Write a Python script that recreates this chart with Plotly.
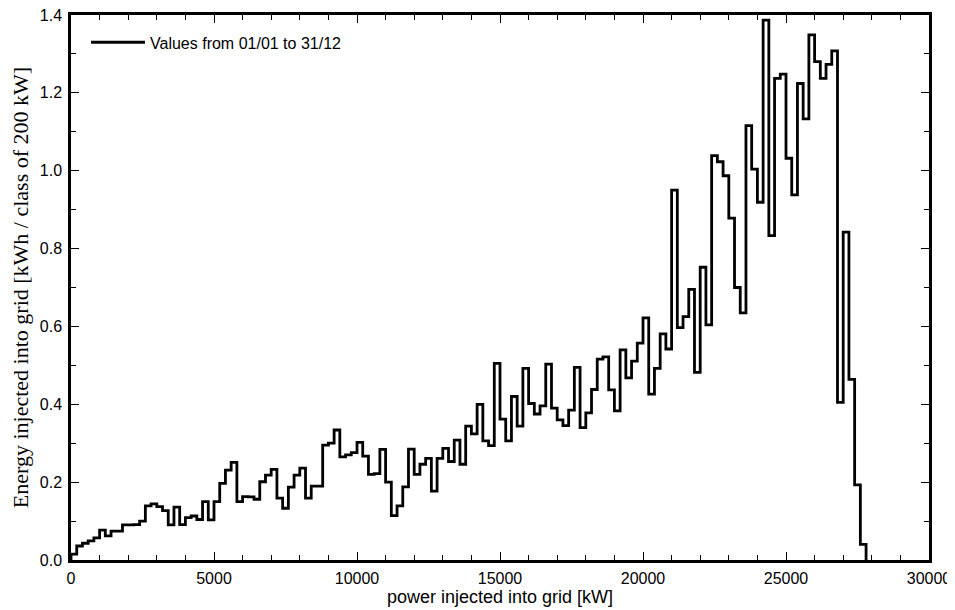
import plotly.graph_objects as go

# Bin lower edges (kW), class width 200 kW
bin_width_kw = 200
bin_start_kw = list(range(0, 27800, 200))

# Energy injected into grid per class [kWh / class of 200 kW]
energy_kwh = [
    0.015, 0.036, 0.043, 0.049, 0.057, 0.077, 0.062, 0.074, 0.074, 0.090,
    0.090, 0.091, 0.100, 0.139, 0.144, 0.137, 0.127, 0.090, 0.136, 0.091,
    0.109, 0.113, 0.104, 0.150, 0.103, 0.150, 0.197, 0.231, 0.251, 0.150,
    0.163, 0.162, 0.156, 0.201, 0.218, 0.233, 0.159, 0.133, 0.187, 0.218,
    0.236, 0.159, 0.190, 0.190, 0.295, 0.300, 0.334, 0.265, 0.270, 0.276,
    0.302, 0.267, 0.220, 0.222, 0.284, 0.200, 0.114, 0.139, 0.188, 0.285,
    0.220, 0.246, 0.261, 0.177, 0.261, 0.287, 0.253, 0.308, 0.246, 0.344,
    0.324, 0.400, 0.306, 0.294, 0.505, 0.362, 0.306, 0.420, 0.344, 0.492,
    0.402, 0.375, 0.396, 0.503, 0.390, 0.360, 0.345, 0.385, 0.495, 0.340,
    0.378, 0.438, 0.516, 0.522, 0.437, 0.383, 0.540, 0.468, 0.511, 0.557,
    0.622, 0.426, 0.492, 0.581, 0.542, 0.950, 0.597, 0.625, 0.695, 0.482,
    0.752, 0.604, 1.039, 1.023, 0.987, 0.878, 0.700, 0.635, 1.116, 1.004,
    0.919, 1.387, 0.833, 1.237, 1.248, 1.032, 0.938, 1.224, 1.133, 1.349,
    1.280, 1.237, 1.273, 1.308, 0.405, 0.842, 0.464, 0.193, 0.040,
]

series_name = "Values from 01/01 to 31/12"
x_title = "power injected into grid [kW]"
y_title = "Energy injected into grid [kWh / class of 200 kW]"

# step outline: start at 0, rise to first class, close back to 0 after the last class
edges = bin_start_kw + [bin_start_kw[-1] + bin_width_kw]
xs = [edges[0]] + edges
ys = [0] + energy_kwh + [0]

fig = go.Figure()
fig.add_trace(go.Scatter(
    x=xs, y=ys, mode="lines", line_shape="hv",
    line=dict(color="black", width=2.8),
    name=series_name, showlegend=True,
))

sans = "Liberation Sans, Arial, sans-serif"
serif = "Liberation Serif, Times New Roman, serif"

axis_common = dict(
    showline=True, linecolor="black", linewidth=2.5, mirror="allticks",
    ticks="inside", ticklen=8, tickwidth=1.2, tickcolor="black",
    showgrid=False, zeroline=False, automargin=False,
    ticklabeloverflow="allow",
    tickfont=dict(family=sans, size=16, color="black"),
)

# the page body adds an 8 px offset, so the figure is sized to fit the window
fig.update_layout(
    width=947, height=602,
    margin=dict(l=63, r=26, t=7, b=50),
    paper_bgcolor="white", plot_bgcolor="white",
    showlegend=True,
    legend=dict(x=0.0175, y=0.981, xanchor="left", yanchor="top",
                itemwidth=54,
                bgcolor="rgba(0,0,0,0)", borderwidth=0,
                font=dict(family=sans, size=16, color="black")),
    xaxis=dict(range=[0, 30000], dtick=5000, tick0=0, tickformat="d",
               ticklabelstandoff=2,
               title=dict(text=x_title, font=dict(family=sans, size=18, color="black"), standoff=4),
               minor=dict(dtick=1000, ticks="inside", ticklen=5, tickcolor="black", tickwidth=1.2),
               **axis_common),
    yaxis=dict(range=[0, 1.4], dtick=0.2, tick0=0, tickformat=".1f",
               ticklabelstandoff=3,
               title=dict(text=y_title, font=dict(family=serif, size=22, color="black"), standoff=18),
               minor=dict(dtick=0.1, ticks="inside", ticklen=5, tickcolor="black", tickwidth=1.2),
               **axis_common),
)

fig.write_html("out.html")
